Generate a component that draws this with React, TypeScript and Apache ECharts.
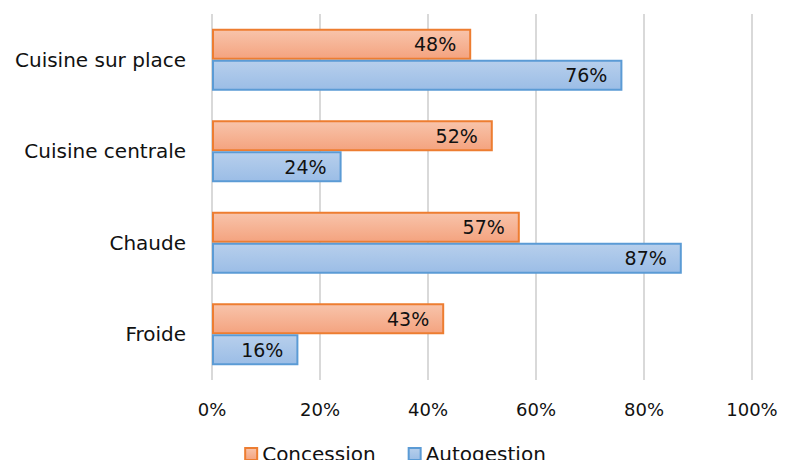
import React, { useEffect, useRef } from "react";
import * as echarts from "echarts";

const categories = ["Cuisine sur place", "Cuisine centrale", "Chaude", "Froide"];
const concession = [48, 52, 57, 43];
const autogestion = [76, 24, 87, 16];
const xTicks = [0, 20, 40, 60, 80, 100];

const FONT = "DejaVu Sans";

export default function App() {
  const ref = useRef<HTMLDivElement>(null);

  useEffect(() => {
    if (!ref.current) return;
    const chart = echarts.init(ref.current, undefined, { renderer: "svg" });

    const grad = (top: string, bottom: string) =>
      new echarts.graphic.LinearGradient(0, 0, 0, 1, [
        { offset: 0, color: top },
        { offset: 1, color: bottom },
      ]);

    const label = {
      show: true,
      position: "insideRight" as const,
      distance: 15,
      formatter: (p: any) => `${p.value}%`,
      color: "#111",
      fontFamily: FONT,
      fontSize: 19,
    };

    chart.setOption({
      animation: false,
      textStyle: { fontFamily: FONT },
      grid: { left: 212, right: 38, top: 14, bottom: 88, containLabel: false },
      legend: {
        left: "center",
        top: 444,
        padding: 0,
        itemWidth: 12,
        itemHeight: 12,
        itemGap: 32,
        icon: "rect",
        textStyle: {
          fontFamily: FONT,
          fontSize: 20,
          lineHeight: 20,
          color: "#111",
          padding: [0, 0, 0, 0],
        },
        data: ["Concession", "Autogestion"],
      },
      xAxis: {
        type: "value",
        min: xTicks[0],
        max: xTicks[xTicks.length - 1],
        interval: 20,
        axisLine: { show: false },
        axisTick: { show: false },
        splitLine: { lineStyle: { color: "#d9d9d9", width: 2 } },
        axisLabel: {
          formatter: (v: number) => `${v}%`,
          color: "#111",
          fontFamily: FONT,
          fontSize: 18,
          margin: 20,
        },
      },
      yAxis: {
        type: "category",
        inverse: true,
        data: categories,
        axisLine: { show: false },
        axisTick: { show: false },
        axisLabel: { color: "#111", fontFamily: FONT, fontSize: 20, margin: 26 },
      },
      series: [
        {
          name: "Concession",
          type: "bar",
          data: concession,
          barWidth: "34%",
          barGap: "0%",
          itemStyle: {
            color: grad("#f8c4ab", "#f4a37f"),
            borderColor: "#ed7d31",
            borderWidth: 2,
          },
          label,
        },
        {
          name: "Autogestion",
          type: "bar",
          data: autogestion,
          barWidth: "34%",
          barGap: "0%",
          itemStyle: {
            color: grad("#b7cfec", "#9bbde6"),
            borderColor: "#5b9bd5",
            borderWidth: 2,
          },
          label,
        },
      ],
    });

    return () => chart.dispose();
  }, []);

  return <div ref={ref} style={{ width: 790, height: 468, margin: -8 }} />;
}
